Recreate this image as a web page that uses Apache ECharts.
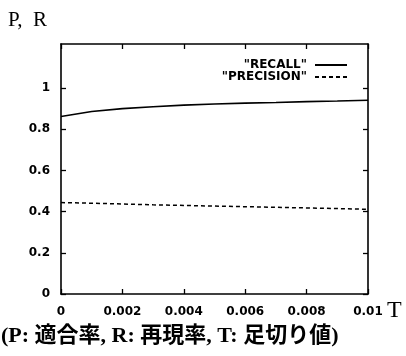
<!DOCTYPE html>
<html><head><meta charset="utf-8">
<script src="https://cdn.jsdelivr.net/npm/echarts@6/dist/echarts.min.js"></script>
<style>html,body{margin:0;padding:0;background:#fff}#c{width:406px;height:356px}</style>
</head><body><div id="c"></div>
<script>
const T = [0, 0.001, 0.002, 0.003, 0.004, 0.005, 0.006, 0.007, 0.008, 0.009, 0.01];
const recall = [0.862, 0.886, 0.900, 0.909, 0.917, 0.923, 0.927, 0.930, 0.934, 0.937, 0.941];
const precision = [0.444, 0.441, 0.437, 0.433, 0.430, 0.427, 0.424, 0.421, 0.418, 0.415, 0.411];
const yTicks = [0, 0.2, 0.4, 0.6, 0.8, 1];
const xTicks = [0, 0.002, 0.004, 0.006, 0.008, 0.01];
const seriesNames = ['"RECALL"', '"PRECISION"'];
const yTitle = 'P,  R';
const xTitle = 'T';
const caption = '(P: 適合率, R: 再現率, T: 足切り値)';

const chart = echarts.init(document.getElementById('c'), null, {renderer: 'canvas'});
const lab = {fontFamily: 'DejaVu Sans, sans-serif', fontWeight: 'bold', fontSize: 12, color: '#000'};
const axLine = {onZero: false, lineStyle: {color: '#000', width: 1.6}};
const tickX = {inside: true, length: 5, customValues: xTicks, lineStyle: {color: '#000', width: 1.3}};
const tickY = {inside: true, length: 5, customValues: yTicks, lineStyle: {color: '#000', width: 1.3}};
const solidIcon = 'path://M0,0h32v2h-32z';
const dashIcon = 'path://M0,0h4v2h-4z M7,0h4v2h-4z M14,0h4v2h-4z M21,0h4v2h-4z M28,0h4v2h-4z';
chart.setOption({
  animation: false,
  grid: {left: 61, right: 38, top: 44, bottom: 62, show: false},
  legend: {
    orient: 'vertical', right: 54, top: 54, align: 'right', itemGap: 0,
    itemWidth: 32, itemHeight: 2,
    textStyle: {fontFamily: 'DejaVu Sans, sans-serif', fontWeight: 'bold', fontSize: 12, color: '#000', lineHeight: 10, padding: [0, 3, 0, 0]},
    data: [{name: seriesNames[0], icon: solidIcon}, {name: seriesNames[1], icon: dashIcon}]
  },
  xAxis: [
    {type: 'value', min: 0, max: 0.01, position: 'bottom',
     axisLine: axLine, axisTick: tickX, splitLine: {show: false},
     axisLabel: Object.assign({margin: 12, customValues: xTicks}, lab)},
    {type: 'value', min: 0, max: 0.01, position: 'top',
     axisLine: axLine, axisTick: tickX, splitLine: {show: false}, axisLabel: {show: false}}
  ],
  yAxis: [
    {type: 'value', min: 0, max: 1.214, position: 'left',
     axisLine: axLine, axisTick: tickY, splitLine: {show: false},
     axisLabel: Object.assign({margin: 11, customValues: yTicks}, lab)},
    {type: 'value', min: 0, max: 1.214, position: 'right',
     axisLine: axLine, axisTick: tickY, splitLine: {show: false}, axisLabel: {show: false}}
  ],
  graphic: [
    {type: 'text', left: 8, top: 10, style: {text: yTitle, font: '21px "Liberation Serif", "DejaVu Serif", serif', fill: '#000'}},
    {type: 'text', left: 387, top: 299, style: {text: xTitle, font: '24px "Liberation Serif", "DejaVu Serif", serif', fill: '#000'}},
    {type: 'text', left: 1, top: 325, style: {text: caption, font: 'bold 22px "Liberation Serif", "Noto Sans CJK JP", serif', fill: '#000'}}
  ],
  series: [
    {name: seriesNames[0], type: 'line', data: T.map((t, i) => [t, recall[i]]),
     showSymbol: false, symbol: 'none', lineStyle: {color: '#000', width: 1.6, type: 'solid'}, itemStyle: {color: '#000'}},
    {name: seriesNames[1], type: 'line', data: T.map((t, i) => [t, precision[i]]),
     showSymbol: false, symbol: 'none', lineStyle: {color: '#000', width: 1.5, type: [4, 3]}, itemStyle: {color: '#000'}}
  ]
});
</script></body></html>
